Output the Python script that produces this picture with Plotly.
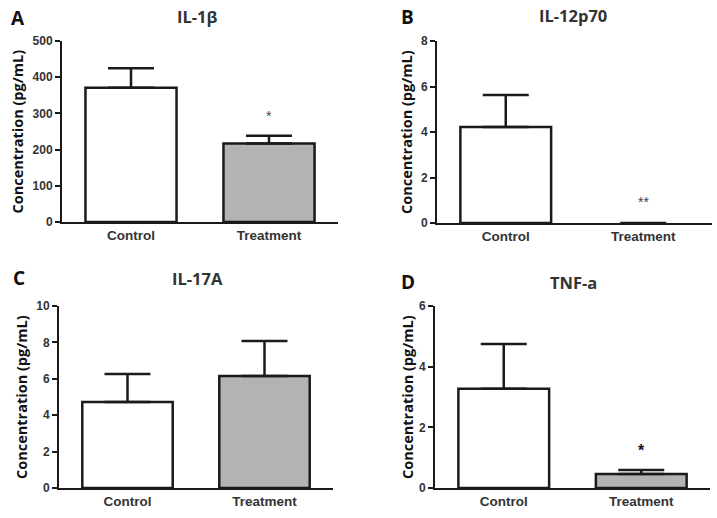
import plotly.graph_objects as go
from plotly.subplots import make_subplots

# ---- data ----
categories = ["Control", "Treatment"]
panel_letters = ["A", "B", "C", "D"]
panel_titles = ["IL-1β", "IL-12p70", "IL-17A", "TNF-a"]

il1b_mean = [371, 217]
il1b_sem = [54, 21]
il12_mean = [4.22, 0]
il12_sem = [1.41, 0]
il17_mean = [4.73, 6.15]
il17_sem = [1.53, 1.93]
tnf_mean = [3.27, 0.46]
tnf_sem = [1.48, 0.13]

y_max = [500, 8, 10, 6]
y_dtick = [100, 2, 2, 2]

sig_labels = ["*", "**", "", "*"]          # on Treatment bar
sig_y = [293, 0.92, None, 1.25]

means = [il1b_mean, il12_mean, il17_mean, tnf_mean]
sems = [il1b_sem, il12_sem, il17_sem, tnf_sem]

# ---- layout constants (pixels) ----
W, H = 717, 518
# (x0, x1, ytop, ybottom) of each plot area
boxes = [(62, 338, 41, 222), (437, 712, 41, 223), (59, 333, 306, 488), (435, 710, 306, 488)]
letter_pos = [(18, 18), (407, 17), (19, 278), (408, 282)]
title_pos = [(197, 16), (573, 15), (197, 278), (573, 282)]
ytitle_x = [17, 407, 21, 407]

bar_colors = ["#ffffff", "#b3b3b3"]
INK = "#1a1a1a"
TICKFONT = "Liberation Sans, Arial, sans-serif"
TITLEFONT = "Open Sans, Liberation Sans, sans-serif"

fig = make_subplots(rows=2, cols=2)

def px(x):
    return x / W

def py(y):
    return 1 - y / H

for i in range(4):
    r, c = i // 2 + 1, i % 2 + 1
    m, s = means[i], sems[i]
    # a zero-height bar (and its error bar) is not drawn in the original
    line_w = [2.5 if v > 0 else 0 for v in m]
    fills = [col if v > 0 else "rgba(0,0,0,0)" for col, v in zip(bar_colors, m)]
    err_up = [e if v > 0 else None for v, e in zip(m, s)]
    fig.add_trace(
        go.Bar(
            x=categories,
            y=m,
            width=0.66,
            marker=dict(color=fills, line=dict(color=INK, width=line_w)),
            error_y=dict(type="data", symmetric=False, array=err_up,
                         arrayminus=[0, 0], color=INK, thickness=2.5, width=23),
            showlegend=False,
            hoverinfo="skip",
        ),
        row=r, col=c,
    )
    x0, x1, yt, yb = boxes[i]
    xa = "xaxis" if i == 0 else f"xaxis{i+1}"
    ya = "yaxis" if i == 0 else f"yaxis{i+1}"
    fig.layout[xa].update(
        domain=[px(x0), min(px(x1), 1)], range=[-0.5, 1.5], automargin=False,
        showline=True, linecolor=INK, linewidth=2, ticks="",
        showgrid=False, zeroline=False,
        tickfont=dict(family=TICKFONT, size=13.5, color="#333333", weight="bold"),
    )
    fig.layout[ya].update(
        domain=[py(yb), py(yt)], range=[0, y_max[i]], dtick=y_dtick[i], automargin=False,
        showline=True, linecolor=INK, linewidth=2, ticks="outside",
        ticklen=5, tickwidth=2, tickcolor=INK,
        showgrid=False, zeroline=False,
        tickfont=dict(family=TICKFONT, size=12, color="#333333", weight="bold"),
    )
    lx, ly = letter_pos[i]
    fig.add_annotation(x=px(lx), y=py(ly), xref="paper", yref="paper",
                       xanchor="center", yanchor="middle", borderpad=0,
                       text=panel_letters[i], showarrow=False,
                       font=dict(family=TITLEFONT, size=19, color="#111111", weight="bold"))
    tx, ty = title_pos[i]
    fig.add_annotation(x=px(tx), y=py(ty), xref="paper", yref="paper",
                       xanchor="center", yanchor="middle", borderpad=0,
                       text=panel_titles[i], showarrow=False,
                       font=dict(family=TITLEFONT, size=16.5, color="#333333", weight="bold"))
    fig.add_annotation(x=px(ytitle_x[i]), y=py((yt + yb) / 2), xref="paper", yref="paper",
                       xanchor="center", yanchor="middle", borderpad=0,
                       text="Concentration (pg/mL)", showarrow=False, textangle=-90,
                       font=dict(family=TITLEFONT, size=14.5, color="#111111", weight="bold"))
    if sig_labels[i]:
        xr = "x" if i == 0 else f"x{i+1}"
        yr = "y" if i == 0 else f"y{i+1}"
        fig.add_annotation(x=categories[1], y=sig_y[i], xref=xr, yref=yr,
                           xanchor="center", yanchor="middle",
                           text=sig_labels[i], showarrow=False,
                           font=dict(family=TICKFONT, size=16 if i == 3 else 14,
                                     color="#111111" if i == 3 else "#444444",
                                     weight="bold" if i == 3 else "normal"))

fig.update_layout(
    template="none",
    width=W, height=H,
    margin=dict(l=0, r=0, t=0, b=0, pad=0, autoexpand=False),
    paper_bgcolor="white", plot_bgcolor="white",
    bargap=0.3,
)

# let the figure fill the page exactly (no default body margin)
fig.write_html("out.html", config={"displayModeBar": False},
               post_script="document.body.style.margin='0';")
